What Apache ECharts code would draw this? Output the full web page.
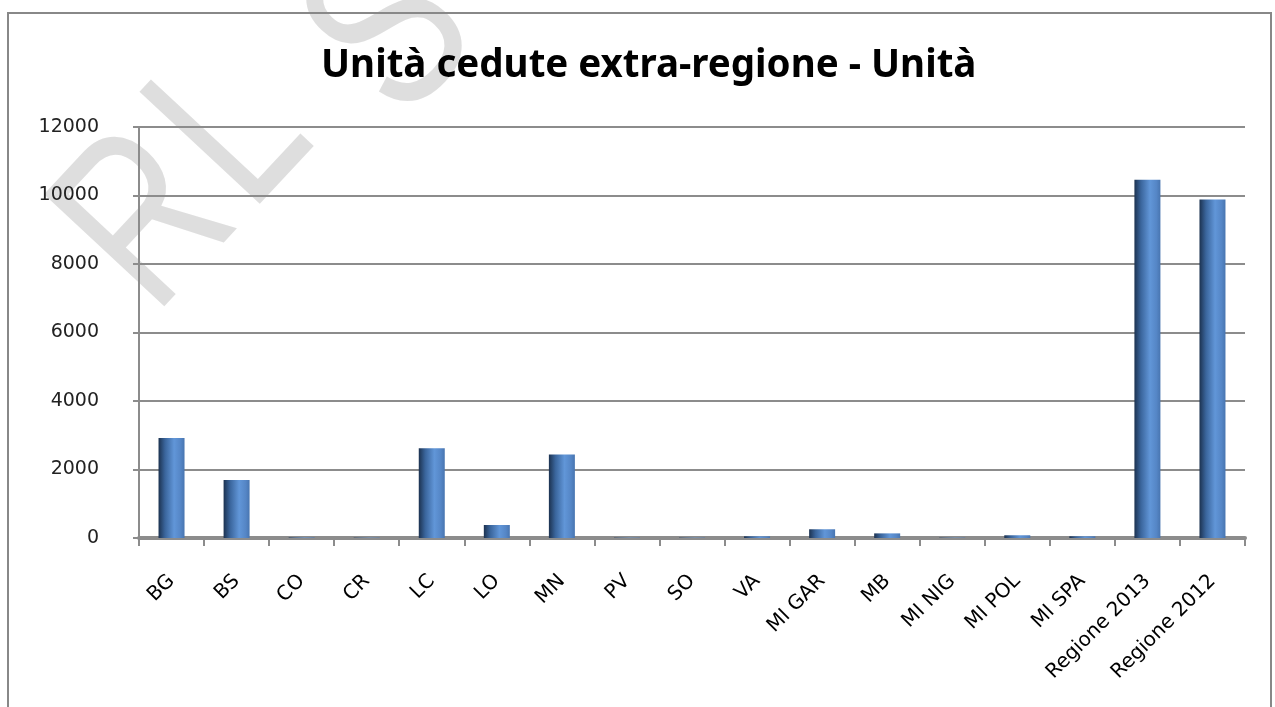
<!DOCTYPE html>
<html>
<head>
<meta charset="utf-8">
<script src="https://cdn.jsdelivr.net/npm/echarts@6/dist/echarts.min.js"></script>
<style>
  html, body { margin: 0; padding: 0; background: #fff; }
  #chart { width: 1275px; height: 707px; }
</style>
</head>
<body>
<div id="chart"></div>
<script>
var categories = ['BG', 'BS', 'CO', 'CR', 'LC', 'LO', 'MN', 'PV', 'SO', 'VA', 'MI GAR', 'MB', 'MI NIG', 'MI POL', 'MI SPA', 'Regione 2013', 'Regione 2012'];
var unita = [2920, 1690, 15, 10, 2620, 380, 2440, 10, 10, 50, 255, 135, 10, 80, 50, 10460, 9880];
var yTicks = [0, 2000, 4000, 6000, 8000, 10000, 12000];

var chart = echarts.init(document.getElementById('chart'));

// cylinder look: dark left edge, light middle
var barColor = new echarts.graphic.LinearGradient(0, 0, 1, 0, [
  { offset: 0, color: '#1c3250' },
  { offset: 0.25, color: '#3a659c' },
  { offset: 0.6, color: '#6196d8' },
  { offset: 0.85, color: '#5586c6' },
  { offset: 1, color: '#4875b0' }
]);

// watermark letters, laid out along a tilted baseline
function markLetter(ch, dx, dy) {
  return {
    type: 'text',
    x: dx,
    y: dy,
    scaleX: 0.75,
    style: {
      text: ch,
      fontFamily: 'Liberation Sans',
      fontSize: 239,
      fill: 'rgba(195,195,195,0.55)',
      verticalAlign: 'middle',
      align: 'left'
    }
  };
}

var option = {
  animation: false,
  title: {
    text: 'Unità cedute extra-regione - Unità',
    left: 316,
    top: 42,
    textStyle: { fontFamily: 'Noto Sans', fontWeight: 'bold', fontSize: 38.5, color: '#000' }
  },
  grid: { left: 139, right: 30, top: 127, bottom: 169 },
  xAxis: {
    type: 'category',
    data: categories,
    axisLine: { lineStyle: { color: '#8c8c8c', width: 4 } },
    axisTick: { show: true, length: 8, lineStyle: { color: '#8c8c8c', width: 2 } },
    axisLabel: {
      rotate: 45, margin: 40, interval: 0,
      fontFamily: 'DejaVu Sans', fontSize: 20, color: '#000'
    }
  },
  yAxis: {
    type: 'value',
    min: yTicks[0],
    max: yTicks[yTicks.length - 1],
    interval: 2000,
    axisLine: { show: true, lineStyle: { color: '#8c8c8c', width: 2 } },
    axisTick: { show: true, length: 6, lineStyle: { color: '#8c8c8c', width: 2 } },
    axisLabel: {
      margin: 40, fontFamily: 'DejaVu Sans', fontSize: 19, color: '#222',
      formatter: function (v) { return String(v); }
    },
    splitLine: { lineStyle: { color: '#8c8c8c', width: 2 } }
  },
  series: [{
    type: 'bar',
    data: unita,
    barWidth: 26,
    itemStyle: { color: barColor }
  }],
  graphic: [
    {
      type: 'rect',
      shape: { x: 8, y: 13, width: 1263, height: 710 },
      style: { fill: 'none', stroke: '#888', lineWidth: 2 },
      z: 100
    },
    {
      type: 'group',
      x: 106, y: 272,
      rotation: 47 * Math.PI / 180,
      z: 50,
      children: [markLetter('R', 0, 0), markLetter('L', 140, 0), markLetter('S', 310, 50)]
    }
  ]
};
chart.setOption(option);
window.addEventListener('resize', function () {
  chart.resize();
});
</script>
</body>
</html>
